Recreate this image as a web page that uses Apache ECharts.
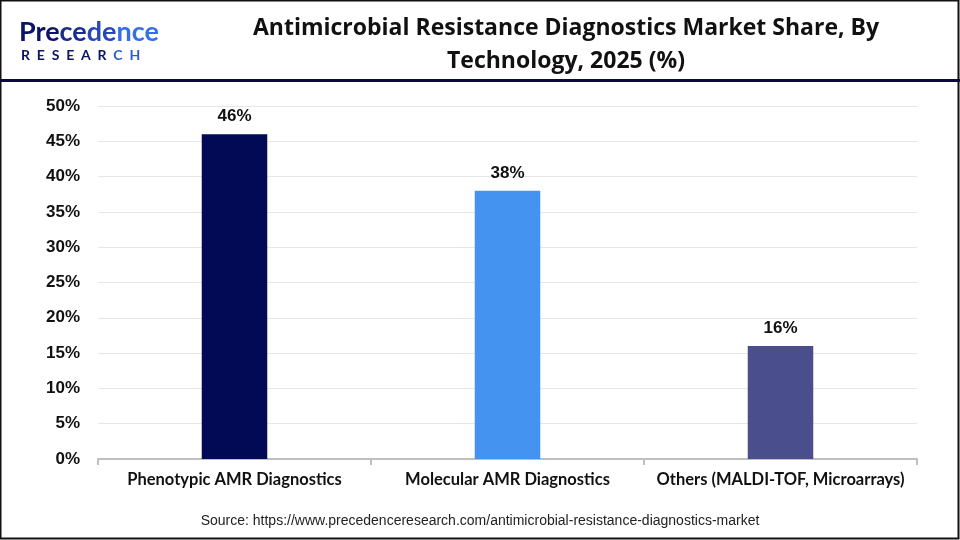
<!DOCTYPE html>
<html>
<head>
<meta charset="utf-8">
<script src="https://cdn.jsdelivr.net/npm/echarts@6/dist/echarts.min.js"></script>
<style>
html,body{margin:0;padding:0;background:#fff;}
#main{width:960px;height:540px;}
</style>
</head>
<body>
<div id="main"></div>
<script>
const categories = ['Phenotypic AMR Diagnostics', 'Molecular AMR Diagnostics', 'Others (MALDI-TOF, Microarrays)'];
const shares = [46, 38, 16];
const barColors = ['#020a55', '#4493f0', '#4a4e8c'];
const yTicks = [0, 5, 10, 15, 20, 25, 30, 35, 40, 45, 50];

const chart = echarts.init(document.getElementById('main'), null, {renderer: 'canvas'});
const logoFont = {fontFamily: 'Lato', fontSize: 27, fontWeight: 'bold'};
const subFont = {fontFamily: 'Lato', fontSize: 14, fontWeight: 'bold'};
const option = {
  backgroundColor: '#ffffff',
  animation: false,
  title: {
    text: 'Antimicrobial Resistance Diagnostics Market Share, By\nTechnology, 2025 (%)',
    left: 561, top: 7, textAlign: 'center',
    textStyle: {fontFamily: 'Open Sans', fontWeight: 'bold', fontSize: 23, color: '#111', lineHeight: 33}
  },
  grid: {left: 98, right: 43, top: 106, bottom: 81},
  xAxis: {
    type: 'category',
    data: categories,
    axisLine: {lineStyle: {color: '#bfbfbf', width: 2}},
    axisTick: {show: true, length: 6, lineStyle: {color: '#bfbfbf', width: 2}},
    axisLabel: {margin: 12, fontFamily: 'Lato', fontWeight: 'bold', fontSize: 16.5, color: '#111', interval: 0}
  },
  yAxis: {
    type: 'value',
    min: yTicks[0], max: yTicks[yTicks.length - 1], interval: 5,
    axisLine: {show: false}, axisTick: {show: false},
    splitLine: {lineStyle: {color: '#e6e6e6', width: 1}},
    axisLabel: {margin: 18, formatter: '{value}%', fontFamily: 'Liberation Sans', fontWeight: 'bold', fontSize: 17, color: '#111'}
  },
  series: [{
    type: 'bar',
    barWidth: '24%',
    data: shares.map((v, i) => ({value: v, itemStyle: {color: barColors[i]}})),
    label: {show: true, position: 'top', distance: 9, formatter: '{c}%', fontFamily: 'Liberation Sans', fontWeight: 'bold', fontSize: 17, color: '#111'}
  }],
  graphic: [
    {type: 'rect', shape: {x: 0.5, y: 0.5, width: 958, height: 538}, style: {fill: 'none', stroke: '#111', lineWidth: 2}, z: 100},
    {type: 'rect', shape: {x: 0, y: 79, width: 960, height: 3}, style: {fill: '#0a0a3c'}, z: 100},
    {type: 'text', left: 19, top: 19, style: Object.assign({
      text: '{a|Pre}{b|ce}{c|de}{d|nce}',
      rich: {
        a: Object.assign({fill: '#0c1466'}, logoFont),
        b: Object.assign({fill: '#1c2c8c'}, logoFont),
        c: Object.assign({fill: '#2848b8'}, logoFont),
        d: Object.assign({fill: '#3670e0'}, logoFont)
      }
    }, logoFont)},
    {type: 'text', left: 21, top: 48, style: Object.assign({
      text: '{a|R  E  S  E  A  R  }{b|C  H}',
      rich: {
        a: Object.assign({fill: '#0c1466'}, subFont),
        b: Object.assign({fill: '#2a5cd0'}, subFont)
      }
    }, subFont)},
    {type: 'text', x: 480, y: 521, style: {text: 'Source: https://www.precedenceresearch.com/antimicrobial-resistance-diagnostics-market', fontFamily: 'Liberation Sans', fontSize: 14, fill: '#222', textAlign: 'center', textVerticalAlign: 'middle'}}
  ]
};
chart.setOption(option);
</script>
</body>
</html>
